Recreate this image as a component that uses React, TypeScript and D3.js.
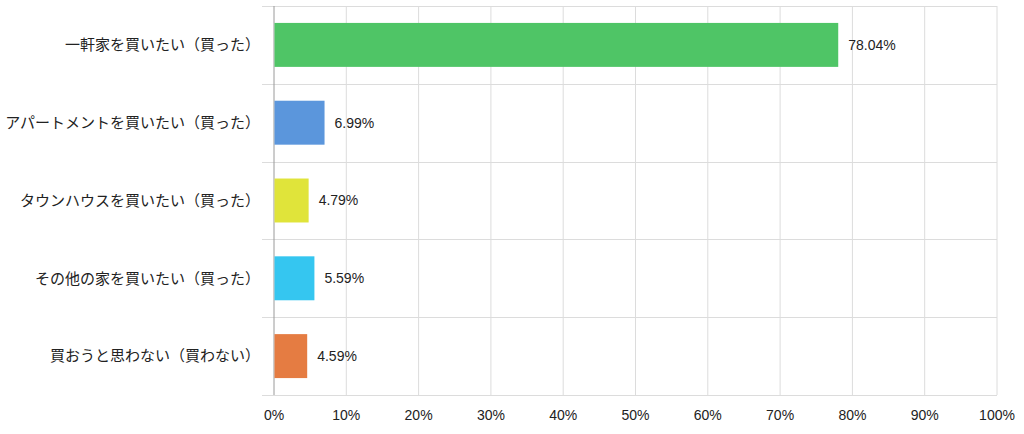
import React, { useEffect, useRef } from 'react';
import * as d3 from 'd3';

const categories = [
  '一軒家を買いたい（買った）',
  'アパートメントを買いたい（買った）',
  'タウンハウスを買いたい（買った）',
  'その他の家を買いたい（買った）',
  '買おうと思わない（買わない）',
];
const values = [78.04, 6.99, 4.79, 5.59, 4.59];
const colors = ['#4fc566', '#5b96dc', '#e0e43a', '#35c6f0', '#e57c42'];
const ticks = [0, 10, 20, 30, 40, 50, 60, 70, 80, 90, 100];

const W = 1024;
const H = 434;
const margin = { top: 6, right: 27, bottom: 39, left: 274 };

export default function App() {
  const svgRef = useRef<SVGSVGElement>(null);

  useEffect(() => {
    if (!svgRef.current) return;
    const svg = d3.select(svgRef.current);
    svg.selectAll('*').remove();

    const x = d3.scaleLinear().domain([0, 100]).range([margin.left, W - margin.right]);
    const y = d3.scaleBand<string>()
      .domain(categories)
      .range([margin.top, H - margin.bottom])
      .paddingInner(0.435)
      .paddingOuter(0.2175);
    const step = y.step();

    // vertical grid
    svg.append('g')
      .selectAll('line')
      .data(ticks.slice(1))
      .enter().append('line')
      .attr('x1', d => x(d)).attr('x2', d => x(d))
      .attr('y1', margin.top).attr('y2', H - margin.bottom)
      .attr('stroke', '#dcdcdc')
      .attr('stroke-width', 1);

    // horizontal row separators
    const rowEdges = d3.range(categories.length + 1).map(i => margin.top + i * step);
    svg.append('g')
      .selectAll('line')
      .data(rowEdges)
      .enter().append('line')
      .attr('x1', margin.left - 12).attr('x2', x(100))
      .attr('y1', d => Math.round(d) + 0.5).attr('y2', d => Math.round(d) + 0.5)
      .attr('stroke', '#dcdcdc')
      .attr('stroke-width', 1);

    // axis line at 0
    svg.append('line')
      .attr('x1', x(0)).attr('x2', x(0))
      .attr('y1', margin.top).attr('y2', H - margin.bottom)
      .attr('stroke', '#9a9a9a')
      .attr('stroke-width', 1);

    // bars
    svg.append('g')
      .selectAll('rect')
      .data(values)
      .enter().append('rect')
      .attr('x', x(0) + 0.5)
      .attr('y', (_, i) => y(categories[i]) as number)
      .attr('width', d => x(d) - x(0) - 0.5)
      .attr('height', y.bandwidth())
      .attr('fill', (_, i) => colors[i]);

    // value labels
    svg.append('g')
      .selectAll('text')
      .data(values)
      .enter().append('text')
      .attr('x', d => x(d) + 10)
      .attr('y', (_, i) => (y(categories[i]) as number) + y.bandwidth() / 2)
      .attr('dy', '0.35em')
      .style('font-family', 'Arial, "Liberation Sans", sans-serif')
      .style('font-size', '14px')
      .style('fill', '#222')
      .text(d => `${d.toFixed(2)}%`);

    // category labels
    svg.append('g')
      .selectAll('text')
      .data(categories)
      .enter().append('text')
      .attr('x', margin.left - 14)
      .attr('y', d => (y(d) as number) + y.bandwidth() / 2)
      .attr('dy', '0.35em')
      .attr('text-anchor', 'end')
      .style('font-family', '"Noto Sans CJK JP", sans-serif')
      .style('font-size', '15px')
      .style('fill', '#222')
      .text(d => d);

    // x tick labels
    svg.append('g')
      .selectAll('text')
      .data(ticks)
      .enter().append('text')
      .attr('x', d => x(d))
      .attr('y', H - margin.bottom + 20)
      .attr('dy', '0.35em')
      .attr('text-anchor', 'middle')
      .style('font-family', 'Arial, "Liberation Sans", sans-serif')
      .style('font-size', '14px')
      .style('fill', '#222')
      .text(d => `${d}%`);
  }, []);

  return (
    <svg
      ref={svgRef}
      width={W}
      height={H}
      viewBox={`0 0 ${W} ${H}`}
      style={{ position: 'absolute', left: 0, top: 0, background: '#fff' }}
    />
  );
}
